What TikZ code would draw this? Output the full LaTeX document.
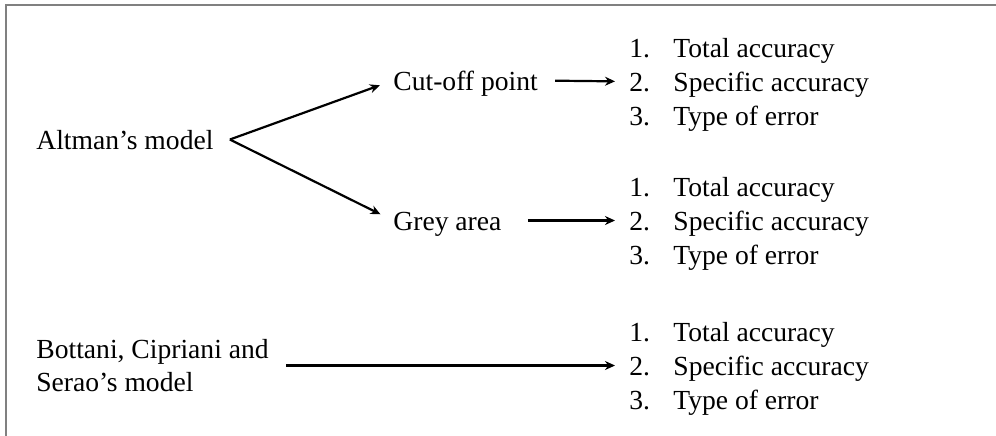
\documentclass[tikz,border=0pt]{standalone}
\usepackage{fontspec}
\setmainfont{Liberation Serif}
\usetikzlibrary{arrows.meta}
\begin{document}
\begin{tikzpicture}[x=0.5pt,y=-0.5pt,font=\fontsize{13.8pt}{16.5pt}\selectfont,
		lbl/.style={anchor=base west,inner sep=0pt,text height=9.5pt,text depth=0pt},
		arr/.style={-{Stealth[length=5pt,width=4.5pt]},line width=1.1pt,shorten <=8.5pt,shorten >=7pt}]
		\useasboundingbox (0,0) rectangle (996,435);
		\draw[black!50,line width=1pt] (6,437)--(6,5)--(998,5);
		\path (36,149) node[lbl](alt){Altman’s model}
		(393,90) node[lbl](cut){Cut-off point}
		(393,230) node[lbl](grey){Grey area}
		(36,391) node[anchor=base west,inner sep=0pt,align=left](bot){Bottani, Cipriani and\\Serao’s model};
		\foreach \l/\y in {1/57,2/196,3/341}
		\foreach \i/\texn in {1/Total accuracy,2/Specific accuracy,3/Type of error}
		\path (629,\y+34*\i-34) node[lbl](n\l\i){\i.}
		(673,\y+34*\i-34) node[lbl](t\l\i){\texn};
		\coordinate (fork) at ([xshift=8pt]alt.east);
		\draw[arr,shorten <=0pt] (fork)--(cut.west);
		\draw[arr,shorten <=0pt] (fork)--(grey.west);
		\draw[arr] (cut.east)--(n12.west);
		\draw[arr,shorten <=13pt] (grey.east)--(n22.west);
		\draw[arr] (bot.east |- n32.west)--(n32.west);
	\end{tikzpicture}
\end{document}
